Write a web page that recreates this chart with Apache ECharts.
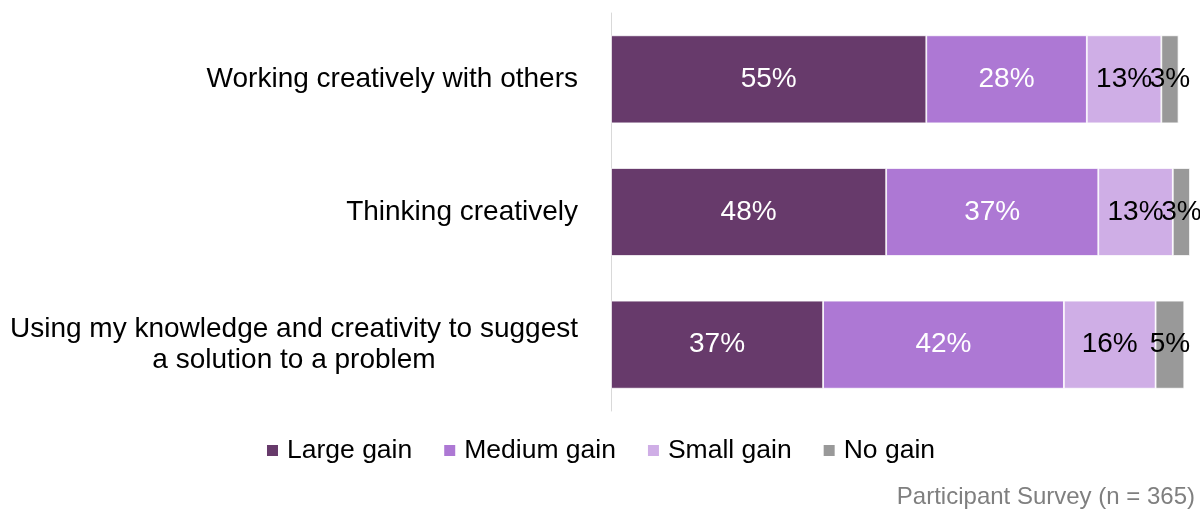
<!DOCTYPE html>
<html><head><meta charset="utf-8">
<script src="https://cdn.jsdelivr.net/npm/echarts@6/dist/echarts.min.js"></script>
<style>html,body{margin:0;padding:0;background:#fff}#c{width:1200px;height:510px}</style>
</head><body><div id="c"></div>
<script>
const categories = ['Working creatively with others', 'Thinking creatively', 'Using my knowledge and creativity to suggest\na solution to a problem'];
const seriesNames = ['Large gain', 'Medium gain', 'Small gain', 'No gain'];
const largeGain = [55, 48, 37];
const mediumGain = [28, 37, 42];
const smallGain = [13, 13, 16];
const noGain = [3, 3, 5];
const sourceNote = 'Participant Survey (n = 365)';

const colors = ['#673A6B', '#AD78D4', '#CFAEE6', '#999999'];
const labelColors = ['#ffffff', '#ffffff', '#000000', '#000000'];
const values = [largeGain, mediumGain, smallGain, noGain];
const FONT = '"Liberation Sans", Arial, sans-serif';

const chart = echarts.init(document.getElementById('c'), null, {renderer: 'canvas'});
chart.setOption({
  animation: false,
  color: colors,
  textStyle: {fontFamily: FONT},
  grid: {left: 611, right: 10, top: 13, bottom: 99, containLabel: false},
  xAxis: {type: 'value', min: 0, max: 101, show: false},
  yAxis: {
    type: 'category', data: categories, inverse: true,
    axisLine: {show: true, lineStyle: {color: '#d9d9d9', width: 1}},
    axisTick: {show: false},
    axisLabel: {
      margin: 33, fontSize: 28, color: '#000', fontFamily: FONT, align: 'right',
      formatter: function (v) {
        if (v.indexOf('\n') >= 0) {
          return v.split('\n').map(function (l) { return '{c|' + l + '}'; }).join('\n');
        }
        return v;
      },
      rich: {c: {width: 568, align: 'center', fontSize: 28, lineHeight: 31, fontFamily: FONT, color: '#000'}}
    }
  },
  legend: {
    bottom: 41, left: 'center',
    itemWidth: 13, itemHeight: 13, itemGap: 30, icon: 'rect',
    textStyle: {fontSize: 26.5, color: '#000', fontFamily: FONT, padding: [0, 0, 0, 3]},
    data: seriesNames
  },
  title: {
    text: sourceNote, right: 0, bottom: -4,
    textStyle: {fontSize: 24, fontWeight: 'normal', color: '#7f7f7f', fontFamily: FONT}
  },
  series: seriesNames.map(function (name, i) {
    return {
      name: name, type: 'bar', stack: 'total', barWidth: 88,
      data: values[i],
      itemStyle: {color: colors[i], borderColor: '#ffffff', borderWidth: 0.8},
      label: {
        show: true, position: 'inside', formatter: '{c}%',
        fontSize: 28, color: labelColors[i], fontFamily: FONT
      }
    };
  })
});
</script></body></html>
